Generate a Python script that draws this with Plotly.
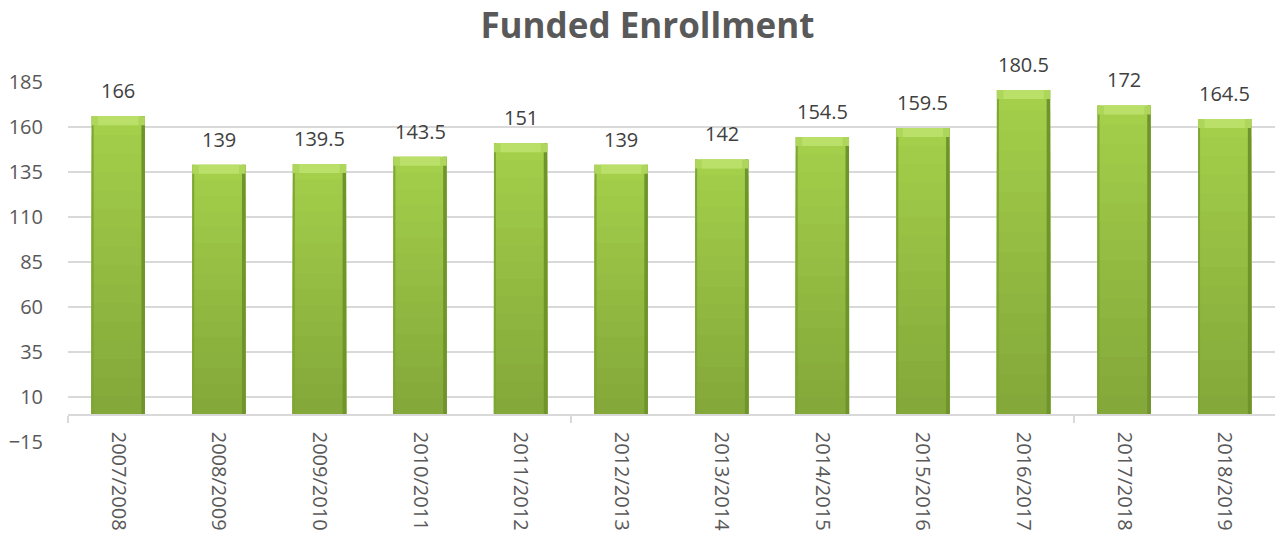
import plotly.graph_objects as go

categories = ["2007/2008", "2008/2009", "2009/2010", "2010/2011", "2011/2012", "2012/2013",
              "2013/2014", "2014/2015", "2015/2016", "2016/2017", "2017/2018", "2018/2019"]
enrollment = [166, 139, 139.5, 143.5, 151, 139, 142, 154.5, 159.5, 180.5, 172, 164.5]
value_labels = ["166", "139", "139.5", "143.5", "151", "139", "142", "154.5", "159.5", "180.5", "172", "164.5"]
y_ticks = [-15, 10, 35, 60, 85, 110, 135, 160, 185]

FONT = "Open Sans"
BAR_W = 0.53
fig = go.Figure()


def mix(c1, c2, t):
    a = [int(c1[i:i + 2], 16) for i in (1, 3, 5)]
    b = [int(c2[i:i + 2], 16) for i in (1, 3, 5)]
    return "#" + "".join(f"{round(a[i] + (b[i] - a[i]) * t):02x}" for i in range(3))


# vertical shading: full bar in the light top colour, then progressively shorter, darker bars on top
N = 16
for k in range(N):
    frac = (N - k) / N
    col = mix("#a3cf4a", "#84a83a", k / (N - 1))
    fig.add_trace(go.Bar(x=categories, y=[v * frac for v in enrollment], width=BAR_W,
                         marker=dict(color=col, line=dict(width=0)),
                         hoverinfo="skip", showlegend=False))

# darker side edges
fig.add_trace(go.Bar(x=categories, y=enrollment, width=0.02, offset=-BAR_W / 2,
                     marker=dict(color="#7fa536", line=dict(width=0)), hoverinfo="skip", showlegend=False))
fig.add_trace(go.Bar(x=categories, y=enrollment, width=0.035, offset=BAR_W / 2 - 0.035,
                     marker=dict(color="#6e942b", line=dict(width=0)), hoverinfo="skip", showlegend=False))

# lighter bevel at the top of each bar
bevel = [5.0] * len(enrollment)
fig.add_trace(go.Bar(x=categories, y=bevel, base=[v - 5.0 for v in enrollment], width=BAR_W,
                     marker=dict(color="#aed65a", line=dict(width=0)), hoverinfo="skip", showlegend=False))
fig.add_trace(go.Bar(x=categories, y=bevel, base=[v - 5.0 for v in enrollment], width=0.40,
                     marker=dict(color="#bbe06a", line=dict(width=0)), hoverinfo="skip", showlegend=False))

# invisible trace to carry the secondary (tick-mark) x axis
fig.add_trace(go.Scatter(x=categories, y=enrollment, xaxis="x2", mode="markers",
                         marker=dict(opacity=0, size=1), hoverinfo="skip", showlegend=False))

for cat, v, lab in zip(categories, enrollment, value_labels):
    fig.add_annotation(x=cat, y=v, text=lab, showarrow=False, yanchor="bottom", yshift=10,
                       font=dict(family=FONT, size=20, color="#404040"))

xr = [-0.5, len(categories) - 0.5]
fig.update_layout(
    width=1277, height=539,
    margin=dict(l=68, r=2, t=82, b=97),
    paper_bgcolor="white", plot_bgcolor="white",
    barmode="overlay",
    title=dict(text="<b>Funded Enrollment</b>", x=0.507, xanchor="center", y=0.953, yanchor="middle",
               font=dict(family=FONT, size=35, color="#595959")),
    xaxis=dict(type="category", categoryorder="array", categoryarray=categories, range=xr, autorange=False,
               anchor="free", position=0.075, showline=True, linecolor="#d9d9d9", linewidth=1.5,
               ticks="outside", ticklen=12, tickcolor="rgba(0,0,0,0)", tickangle=90,
               tickfont=dict(family=FONT, size=20, color="#595959"), showgrid=False, zeroline=False),
    xaxis2=dict(type="category", categoryorder="array", categoryarray=categories, overlaying="x",
                range=xr, autorange=False, anchor="free", position=0.075, showline=False, ticks="outside",
                tickson="boundaries", dtick=5, ticklen=7, tickcolor="#d9d9d9", tickwidth=1.5,
                showticklabels=False, showgrid=False, zeroline=False),
    yaxis=dict(range=[-15, 185], tickvals=y_ticks, showgrid=True, gridcolor="#d9d9d9", gridwidth=1.5,
               zeroline=False, showline=False, ticks="outside", ticklen=20, tickcolor="rgba(0,0,0,0)",
               tickfont=dict(family=FONT, size=20, color="#595959")),
)

fig.write_html("out.html", config={"displayModeBar": False},
               post_script="document.body.style.margin='0';")
